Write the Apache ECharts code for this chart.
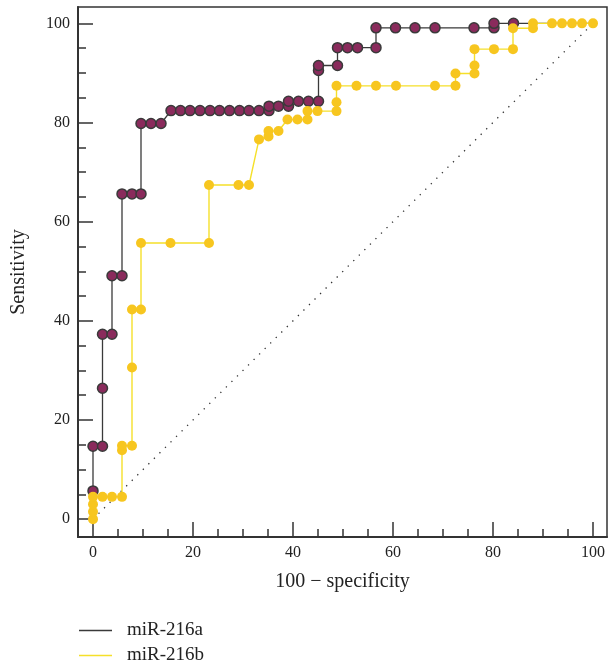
<!DOCTYPE html>
<html>
<head>
<meta charset="utf-8">
<script src="https://cdn.jsdelivr.net/npm/echarts@6/dist/echarts.min.js"></script>
<style>html,body{margin:0;padding:0;background:#fff}#c{width:608px;height:667px}</style>
</head>
<body>
<div id="c"></div>
<script>
// ROC curve values
const fprA = [0,0,0,1.9,1.9,1.9,3.8,3.8,5.8,5.8,7.8,9.6,9.6,11.6,13.6,15.6,17.5,19.4,21.4,23.4,25.3,27.3,29.3,31.2,33.2,35.2,35.2,37.1,39.1,39.1,41.1,43.1,45.1,45.1,45.1,48.9,48.9,50.9,52.9,56.6,56.6,60.5,64.4,68.4,76.2,80.2,80.2,84.1,88,91.8,93.8,95.8,97.8,100];
const sensA = [0,5.7,14.7,14.7,26.4,37.3,37.3,49.1,49.1,65.6,65.6,65.6,79.8,79.8,79.8,82.4,82.4,82.4,82.4,82.4,82.4,82.4,82.4,82.4,82.4,82.4,83.3,83.3,83.3,84.3,84.3,84.3,84.3,90.5,91.5,91.5,95.1,95.1,95.1,95.1,99.1,99.1,99.1,99.1,99.1,99.1,100,100,100,100,100,100,100,100];
const fprB = [0,0,0,0,1.9,3.8,5.8,5.8,5.8,7.8,7.8,7.8,9.6,9.6,15.5,23.2,23.2,29.1,31.2,33.2,35.1,35.1,37.1,38.9,40.9,42.9,42.9,44.9,48.7,48.7,48.7,52.7,56.6,60.6,68.4,72.5,72.5,76.3,76.3,76.3,80.2,84,84,88,88,91.8,93.8,95.8,97.8,100];
const sensB = [0,1.5,3.0,4.5,4.5,4.5,4.5,13.9,14.8,14.8,30.6,42.3,42.3,55.7,55.7,55.7,67.4,67.4,67.4,76.6,77.2,78.3,78.3,80.6,80.6,80.6,82.3,82.3,82.3,84.1,87.4,87.4,87.4,87.4,87.4,87.4,89.9,89.9,91.5,94.8,94.8,94.8,99.0,99.0,100,100,100,100,100,100];
const refLine = [[0,0],[100,100]];
const seriesNames = ['miR-216a','miR-216b'];
const majorTicks = [0,20,40,60,80,100];
const minorTicks = [5,10,15,25,30,35,45,50,55,65,70,75,85,90,95];

const zip = (a,b) => a.map((v,i)=>[v,b[i]]);
const FONT = 'Liberation Serif';
const AX = '#333';

// purple points that sit exactly under a yellow point are covered in the reference
const keyB = new Set(fprB.map((v,i)=>v+'|'+sensB[i]));
const dataA = fprA.map((v,i)=>{
  const val=[v,sensA[i]];
  return keyB.has(v+'|'+sensA[i]) ? {value:val,symbol:'none'} : {value:val};
});

function mainAxis(isX){
  return {
    type:'value', min: isX ? -3 : -3.6, max: isX ? 102.8 : 103.3,
    name: isX ? '100 − specificity' : 'Sensitivity',
    nameLocation:'middle', nameGap: isX ? 35 : 49,
    nameTextStyle:{fontFamily:FONT,fontSize:20,color:'#222'},
    axisLine:{show:true,onZero:false,lineStyle:{color:AX,width:2}},
    axisTick:{show:true,inside:true,length:15,customValues:majorTicks,lineStyle:{color:AX,width:1.5}},
    axisLabel:{show:true,customValues:majorTicks,fontFamily:FONT,fontSize:16,color:'#222',margin:8},
    splitLine:{show:false}
  };
}
function minorAxis(isX){
  return {
    type:'value', min: isX ? -3 : -3.6, max: isX ? 102.8 : 103.3,
    position: isX ? 'bottom' : 'left',
    axisLine:{show:false,onZero:false},
    axisTick:{show:true,inside:true,length:8,customValues:minorTicks,lineStyle:{color:AX,width:1.5}},
    axisLabel:{show:false},
    splitLine:{show:false}
  };
}

const chart = echarts.init(document.getElementById('c'),null,{renderer:'canvas'});
chart.setOption({
  animation:false,
  backgroundColor:'#fff',
  grid:{left:78,right:1,top:7,bottom:130,show:true,borderColor:AX,borderWidth:1.5,backgroundColor:'transparent'},
  xAxis:[mainAxis(true),minorAxis(true)],
  yAxis:[mainAxis(false),minorAxis(false)],
  legend:{
    orient:'vertical',left:79,top:621,padding:0,itemGap:6,itemWidth:33,itemHeight:1.5,
    textStyle:{fontFamily:FONT,fontSize:19,color:'#222',padding:[0,0,0,10]},
    data:[
      {name:seriesNames[0],icon:'rect',itemStyle:{color:'#3a3a3a',borderWidth:0}},
      {name:seriesNames[1],icon:'rect',itemStyle:{color:'#f5e02a',borderWidth:0}}
    ]
  },
  series:[
    {type:'line',data:refLine,symbol:'none',silent:true,
     lineStyle:{color:'#333',width:1.3,type:[1.3,6.5]},z:1},
    {type:'line',name:seriesNames[0],data:dataA,symbol:'circle',symbolSize:10,showAllSymbol:true,
     lineStyle:{color:'#3a3a3a',width:1.3},itemStyle:{color:'#8a2b5c',borderColor:'#3a3a3a',borderWidth:1.5},z:2},
    {type:'line',name:seriesNames[1],data:zip(fprB,sensB),symbol:'circle',symbolSize:10,showAllSymbol:true,
     lineStyle:{color:'#f5e02a',width:1.4},itemStyle:{color:'#f7c61f',borderWidth:0},z:3}
  ]
});
</script>
</body>
</html>
